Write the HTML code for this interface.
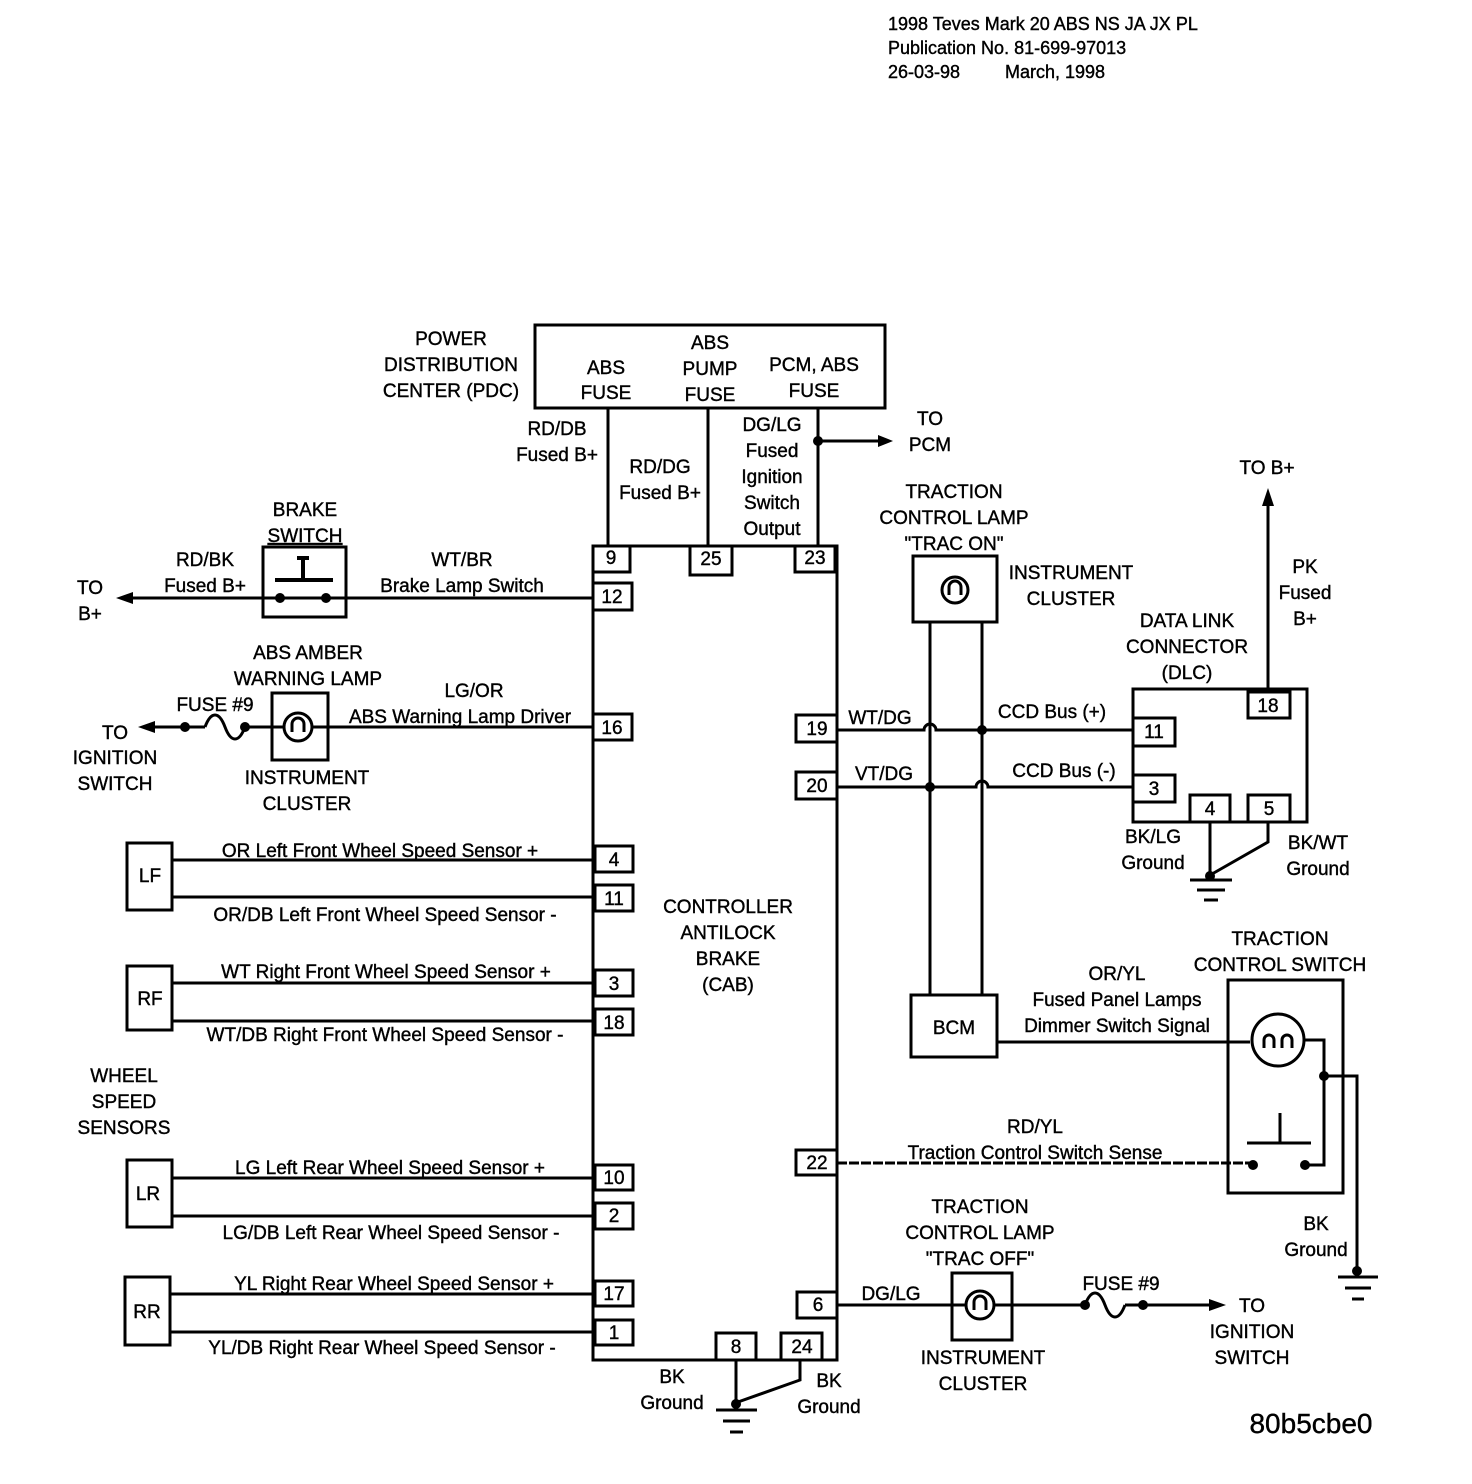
<!DOCTYPE html>
<html><head><meta charset="utf-8"><style>
html,body{margin:0;padding:0;background:#fff}
svg{display:block}
text{font-family:"Liberation Sans",sans-serif;font-size:19px;fill:#000;text-anchor:middle;stroke:#000;stroke-width:0.4}
.l{text-anchor:start}
</style></head><body>
<svg width="1472" height="1484" viewBox="0 0 1472 1484" xmlns="http://www.w3.org/2000/svg">
<g fill="none" stroke="#000" stroke-width="3">
<rect x="535" y="325" width="350" height="83"/>
<line x1="608" y1="408" x2="608" y2="546"/>
<line x1="708" y1="408" x2="708" y2="546"/>
<line x1="818" y1="408" x2="818" y2="546"/>
<line x1="818" y1="441" x2="880" y2="441"/>
<rect x="593" y="546" width="244" height="814"/>
<rect x="593" y="546" width="37" height="26"/>
<rect x="690" y="546" width="42" height="29"/>
<rect x="795" y="546" width="40" height="26"/>
<rect x="593" y="583" width="39" height="27"/>
<rect x="593" y="714" width="39" height="26"/>
<rect x="796" y="715" width="41" height="27"/>
<rect x="796" y="772" width="41" height="27"/>
<rect x="796" y="1150" width="41" height="25"/>
<rect x="797" y="1292" width="40" height="26"/>
<rect x="716" y="1333" width="40" height="27"/>
<rect x="781" y="1333" width="41" height="27"/>
<rect x="595" y="846" width="38" height="26"/>
<rect x="595" y="885" width="38" height="26"/>
<rect x="595" y="970" width="38" height="26"/>
<rect x="595" y="1009" width="38" height="26"/>
<rect x="595" y="1165" width="38" height="25"/>
<rect x="595" y="1203" width="38" height="26"/>
<rect x="595" y="1281" width="38" height="25"/>
<rect x="595" y="1320" width="38" height="25"/>
<rect x="127" y="843" width="45" height="67"/>
<rect x="127" y="966" width="45" height="64"/>
<rect x="127" y="1160" width="45" height="67"/>
<rect x="125" y="1277" width="45" height="68"/>
<line x1="172" y1="860" x2="595" y2="860"/>
<line x1="172" y1="897" x2="595" y2="897"/>
<line x1="172" y1="983" x2="595" y2="983"/>
<line x1="172" y1="1021" x2="595" y2="1021"/>
<line x1="172" y1="1178" x2="595" y2="1178"/>
<line x1="172" y1="1216" x2="595" y2="1216"/>
<line x1="170" y1="1294" x2="595" y2="1294"/>
<line x1="170" y1="1332" x2="595" y2="1332"/>
<rect x="263" y="547" width="83" height="70"/>
<line x1="128" y1="598" x2="593" y2="598"/>
<line x1="275" y1="580" x2="333" y2="580" stroke-width="4"/>
<line x1="303" y1="560" x2="303" y2="580" stroke-width="4"/>
<line x1="297" y1="558" x2="309" y2="558" stroke-width="4"/>
<rect x="272" y="693" width="56" height="67"/>
<circle cx="298" cy="727" r="14"/>
<path d="M292 732 v-8 a6 6 0 0 1 12 0 v8"/>
<line x1="150" y1="727" x2="205" y2="727"/>
<path d="M205 727 c6 -16 14 -16 20 0 s14 16 20 0"/>
<line x1="245" y1="727" x2="284" y2="727"/>
<line x1="312" y1="727" x2="593" y2="727"/>
<rect x="913" y="556" width="84" height="66"/>
<circle cx="955" cy="590" r="13"/>
<path d="M949 595 v-8 a6 6 0 0 1 12 0 v8"/>
<line x1="930" y1="622" x2="930" y2="995"/>
<line x1="982" y1="622" x2="982" y2="995"/>
<rect x="911" y="995" width="86" height="62"/>
<line x1="997" y1="1042" x2="1250" y2="1042"/>
<path d="M837 730 H924 a6 6 0 0 1 12 0 H1133"/>
<path d="M837 787 H976 a6 6 0 0 1 12 0 H1133"/>
<rect x="1133" y="689" width="174" height="133"/>
<rect x="1248" y="692" width="42" height="26"/>
<rect x="1133" y="718" width="42" height="28"/>
<rect x="1133" y="775" width="42" height="27"/>
<rect x="1190" y="795" width="40" height="27"/>
<rect x="1248" y="795" width="42" height="27"/>
<line x1="1268" y1="692" x2="1268" y2="505"/>
<line x1="1210" y1="822" x2="1210" y2="877"/>
<path d="M1268 822 V842 L1212 874"/>
<line x1="1190" y1="880" x2="1232" y2="880"/>
<line x1="1197" y1="890" x2="1225" y2="890"/>
<line x1="1204" y1="900" x2="1218" y2="900"/>
<rect x="1228" y="980" width="115" height="213"/>
<circle cx="1278" cy="1040" r="26"/>
<path d="M1264 1048 v-8 a5 5 0 0 1 10 0 v8 M1282 1048 v-8 a5 5 0 0 1 10 0 v8"/>
<path d="M1304 1040 H1324 V1165 H1305"/>
<path d="M1324 1076 H1357 V1272"/>
<line x1="1247" y1="1143" x2="1311" y2="1143"/>
<line x1="1280" y1="1113" x2="1280" y2="1143"/>
<line x1="1338" y1="1277" x2="1378" y2="1277"/>
<line x1="1345" y1="1288" x2="1371" y2="1288"/>
<line x1="1352" y1="1299" x2="1364" y2="1299"/>
<line x1="837" y1="1163" x2="1253" y2="1163" stroke-dasharray="10 2"/>
<rect x="952" y="1273" width="60" height="67"/>
<circle cx="980" cy="1305" r="14"/>
<path d="M974 1310 v-8 a6 6 0 0 1 12 0 v8"/>
<line x1="837" y1="1305" x2="966" y2="1305"/>
<line x1="994" y1="1305" x2="1085" y2="1305"/>
<path d="M1085 1305 c6 -16 14 -16 20 0 s14 16 20 0"/>
<line x1="1125" y1="1305" x2="1215" y2="1305"/>
<line x1="736" y1="1360" x2="736" y2="1405"/>
<path d="M800 1360 V1380 L738 1402"/>
<line x1="716" y1="1410" x2="757" y2="1410"/>
<line x1="723" y1="1421" x2="750" y2="1421"/>
<line x1="730" y1="1432" x2="743" y2="1432"/>
</g>
<g fill="#000">
<circle cx="818" cy="441" r="5"/>
<polygon points="893,441 878,435 878,447"/>
<polygon points="116,598 133,592 133,604"/>
<circle cx="280" cy="598" r="5"/><circle cx="326" cy="598" r="5"/>
<polygon points="138,727 155,721 155,733"/>
<circle cx="185" cy="727" r="5"/><circle cx="245" cy="727" r="5"/>
<circle cx="982" cy="730" r="5"/><circle cx="930" cy="787" r="5"/>
<polygon points="1268,488 1262,506 1274,506"/>
<circle cx="1210" cy="876" r="5"/>
<circle cx="1324" cy="1076" r="5"/>
<circle cx="1253" cy="1165" r="5"/><circle cx="1305" cy="1165" r="5"/>
<circle cx="1357" cy="1271" r="5"/>
<circle cx="1085" cy="1305" r="5"/><circle cx="1143" cy="1305" r="5"/>
<polygon points="1226,1305 1209,1299 1209,1311"/>
<circle cx="736" cy="1404" r="5"/>
</g>
<text class="l" x="888" y="30" style="font-size:18px">1998 Teves Mark 20 ABS NS JA JX PL</text>
<text class="l" x="888" y="54" style="font-size:18px">Publication No. 81-699-97013</text>
<text class="l" x="888" y="78" style="font-size:18px">26-03-98</text>
<text class="l" x="1005" y="78" style="font-size:18px">March, 1998</text>
<text x="451" y="345">POWER</text><text x="451" y="371">DISTRIBUTION</text><text x="451" y="397">CENTER (PDC)</text>
<text x="606" y="374">ABS</text><text x="606" y="399">FUSE</text>
<text x="710" y="349">ABS</text><text x="710" y="375">PUMP</text><text x="710" y="401">FUSE</text>
<text x="814" y="371">PCM, ABS</text><text x="814" y="397">FUSE</text>
<text x="557" y="435">RD/DB</text><text x="557" y="461">Fused B+</text>
<text x="660" y="473">RD/DG</text><text x="660" y="499">Fused B+</text>
<text x="772" y="431">DG/LG</text><text x="772" y="457">Fused</text><text x="772" y="483">Ignition</text><text x="772" y="509">Switch</text><text x="772" y="535">Output</text>
<text x="930" y="425">TO</text><text x="930" y="451">PCM</text>
<text x="305" y="516">BRAKE</text><text x="305" y="542" text-decoration="underline">SWITCH</text>
<text x="205" y="566">RD/BK</text><text x="205" y="592">Fused B+</text>
<text x="90" y="594">TO</text><text x="90" y="620">B+</text>
<text x="462" y="566">WT/BR</text><text x="462" y="592">Brake Lamp Switch</text>
<text x="611" y="564">9</text><text x="711" y="565">25</text><text x="815" y="564">23</text><text x="612" y="603">12</text>
<text x="308" y="659">ABS AMBER</text><text x="308" y="685">WARNING LAMP</text>
<text x="215" y="711">FUSE #9</text>
<text x="474" y="697">LG/OR</text><text x="460" y="723">ABS Warning Lamp Driver</text>
<text x="612" y="734">16</text>
<text x="115" y="739">TO</text><text x="115" y="764">IGNITION</text><text x="115" y="790">SWITCH</text>
<text x="307" y="784">INSTRUMENT</text><text x="307" y="810">CLUSTER</text>
<text x="954" y="498">TRACTION</text><text x="954" y="524">CONTROL LAMP</text><text x="954" y="550">"TRAC ON"</text>
<text x="1071" y="579">INSTRUMENT</text><text x="1071" y="605">CLUSTER</text>
<text x="1267" y="474">TO B+</text>
<text x="1305" y="573">PK</text><text x="1305" y="599">Fused</text><text x="1305" y="625">B+</text>
<text x="1187" y="627">DATA LINK</text><text x="1187" y="653">CONNECTOR</text><text x="1187" y="679">(DLC)</text>
<text x="1268" y="712">18</text><text x="1154" y="738">11</text><text x="1154" y="795">3</text>
<text x="1210" y="815">4</text><text x="1269" y="815">5</text>
<text x="817" y="735">19</text><text x="817" y="792">20</text>
<text x="880" y="724">WT/DG</text><text x="884" y="780">VT/DG</text>
<text x="1052" y="718">CCD Bus (+)</text><text x="1064" y="777">CCD Bus (-)</text>
<text x="1153" y="843">BK/LG</text><text x="1153" y="869">Ground</text>
<text x="1318" y="849">BK/WT</text><text x="1318" y="875">Ground</text>
<text x="380" y="857">OR  Left Front Wheel Speed Sensor +</text>
<text x="385" y="921">OR/DB  Left Front Wheel Speed Sensor -</text>
<text x="386" y="978">WT  Right Front Wheel Speed Sensor +</text>
<text x="385" y="1041">WT/DB  Right Front Wheel Speed Sensor -</text>
<text x="390" y="1174">LG  Left Rear Wheel Speed Sensor +</text>
<text x="391" y="1239">LG/DB  Left Rear Wheel Speed Sensor -</text>
<text x="394" y="1290">YL  Right Rear Wheel Speed Sensor +</text>
<text x="382" y="1354">YL/DB  Right Rear Wheel Speed Sensor -</text>
<text x="150" y="882">LF</text><text x="150" y="1005">RF</text><text x="148" y="1200">LR</text><text x="147" y="1318">RR</text>
<text x="614" y="866">4</text><text x="614" y="905">11</text><text x="614" y="990">3</text><text x="614" y="1029">18</text>
<text x="614" y="1184">10</text><text x="614" y="1222">2</text><text x="614" y="1300">17</text><text x="614" y="1339">1</text>
<text x="124" y="1082">WHEEL</text><text x="124" y="1108">SPEED</text><text x="124" y="1134">SENSORS</text>
<text x="728" y="913">CONTROLLER</text><text x="728" y="939">ANTILOCK</text><text x="728" y="965">BRAKE</text><text x="728" y="991">(CAB)</text>
<text x="1280" y="945">TRACTION</text><text x="1280" y="971">CONTROL SWITCH</text>
<text x="1117" y="980">OR/YL</text><text x="1117" y="1006">Fused Panel Lamps</text><text x="1117" y="1032">Dimmer Switch Signal</text>
<text x="954" y="1034">BCM</text>
<text x="1035" y="1133">RD/YL</text><text x="1035" y="1159">Traction Control Switch Sense</text>
<text x="817" y="1169">22</text>
<text x="1316" y="1230">BK</text><text x="1316" y="1256">Ground</text>
<text x="980" y="1213">TRACTION</text><text x="980" y="1239">CONTROL LAMP</text><text x="980" y="1265">"TRAC OFF"</text>
<text x="891" y="1300">DG/LG</text><text x="818" y="1311">6</text>
<text x="1121" y="1290">FUSE #9</text>
<text x="1252" y="1312">TO</text><text x="1252" y="1338">IGNITION</text><text x="1252" y="1364">SWITCH</text>
<text x="983" y="1364">INSTRUMENT</text><text x="983" y="1390">CLUSTER</text>
<text x="736" y="1353">8</text><text x="802" y="1353">24</text>
<text x="672" y="1383">BK</text><text x="672" y="1409">Ground</text>
<text x="829" y="1387">BK</text><text x="829" y="1413">Ground</text>
<text x="1311" y="1433" style="font-size:28px">80b5cbe0</text>
</svg>
</body></html>
